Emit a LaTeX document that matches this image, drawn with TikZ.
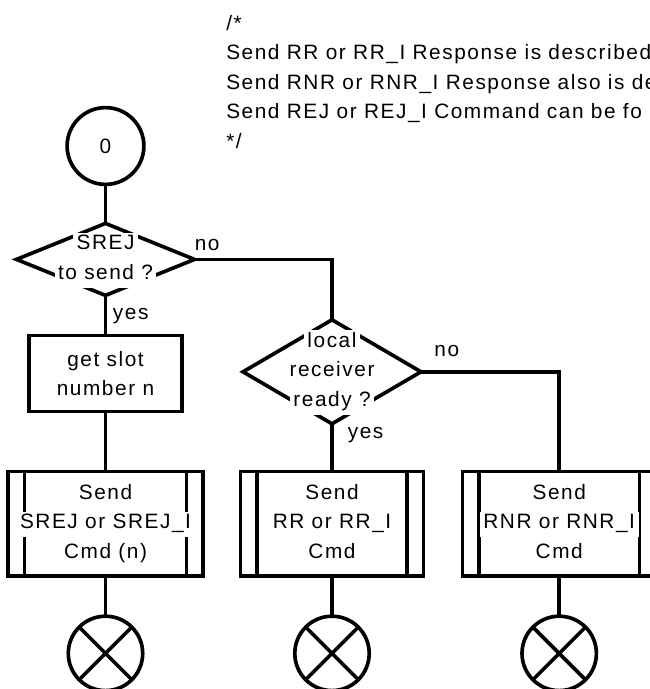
\documentclass[tikz,border=0pt]{standalone}
\usepackage{fontspec}
\setmainfont{Liberation Sans}[LetterSpace=7.5]
\usepackage{tikz}
\usetikzlibrary{shapes.geometric,positioning}
\newcommand{\chartfont}{\fontsize{14.8}{21}\selectfont}
% one text line on a white strip (cuts the lines behind it)
\newcommand{\wbg}[1]{\smash{\colorbox{white}{\hspace{2.5pt}\rule[-6pt]{0pt}{18pt}#1\hspace{2.5pt}}}\vphantom{Ag}}
\setlength{\fboxsep}{0pt}
\tikzset{
  chartline/.style={line width=2.6pt, outer sep=0pt, draw=black, font=\chartfont},
  statenode/.style={chartline, circle, minimum size=1.92cm, inner sep=0pt},
  endnode/.style={chartline, circle, minimum size=1.86cm, inner sep=0pt,
    path picture={\draw[line width=2.6pt]
      (path picture bounding box.north west) -- (path picture bounding box.south east)
      (path picture bounding box.south west) -- (path picture bounding box.north east);}},
  decision/.style={chartline, diamond, minimum width=4.45cm, minimum height=1.8cm, inner sep=0pt},
  dtext/.style={font=\chartfont, align=center, inner sep=0pt},
  process/.style={chartline, rectangle, minimum width=3.835cm, minimum height=1.9cm,
    align=center, inner sep=0pt},
  sendbox/.style={chartline, rectangle, minimum height=2.62cm, align=center, inner sep=0pt,
    path picture={\draw[line width=2.6pt]
      ([xshift=0.41cm]path picture bounding box.north west) -- ([xshift=0.41cm]path picture bounding box.south west)
      ([xshift=-0.41cm]path picture bounding box.north east) -- ([xshift=-0.41cm]path picture bounding box.south east);}},
  flowline/.style={line width=2.6pt},
  lbl/.style={font=\chartfont, inner sep=0pt},
  comment/.style={font=\chartfont, align=left, inner sep=0pt, anchor=north west}
}
\begin{document}
\begin{tikzpicture}[node distance=1cm]
\useasboundingbox (0,0) rectangle (16.25,-17.225);
\node[comment] (note) at (5.65,-0.375) {/*\\Send RR or RR\_I Response is described\\Send RNR or RNR\_I Response also is de\\Send REJ or REJ\_I Command can be fo\\*/};
\node[statenode] (start) at (2.6375,-3.65) {0};
\node[decision, below=0.975cm of start] (srejq) {};
\node[dtext] (srejqt) at (srejq) {\wbg{SREJ}\\\wbg{to send ?}};
\node[process, below=1cm of srejq] (getslot) {get slot\\number n};
\node[sendbox, minimum width=4.875cm, below=1.5cm of getslot] (sendsrej) {\wbg{Send}\\\wbg{SREJ or SREJ\_I}\\\wbg{Cmd (n)}};
\node[sendbox, minimum width=4.58cm, right=0.935cm of sendsrej] (sendrr) {\wbg{Send}\\\wbg{RR or RR\_I}\\\wbg{Cmd}};
\node[sendbox, minimum width=4.84cm, right=0.97cm of sendrr] (sendrnr) {\wbg{Send}\\\wbg{RNR or RNR\_I}\\\wbg{Cmd}};
\node[decision, minimum height=2.6cm, above=1.19cm of sendrr] (rxready) {};
\node[dtext] (rxreadyt) at (rxready) {\wbg{local}\\\wbg{receiver}\\\wbg{ready ?}};
\node[endnode, below=1cm of sendsrej] (endsrej) {};
\node[endnode, below=1cm of sendrr] (endrr) {};
\node[endnode, below=1cm of sendrnr] (endrnr) {};
% branch labels
\node[lbl, above right=0.22cm and 0cm of srejq.east] (srejno) {no};
\node[lbl, below right=0.31cm and 0.18cm of srejq.south] (srejyes) {yes};
\node[lbl, above right=0.37cm and 0.33cm of rxready.east] (rxno) {no};
\node[lbl, below right=0.08cm and 0.39cm of rxready.south] (rxyes) {yes};
\draw[flowline] (start) -- (srejq);
\draw[flowline] (srejq) -- (getslot);
\draw[flowline] (getslot) -- (sendsrej);
\draw[flowline] (sendsrej) -- (endsrej);
\draw[flowline] (srejq.east) -| (rxready.north);
\draw[flowline] (rxready) -- (sendrr);
\draw[flowline] (sendrr) -- (endrr);
\draw[flowline] (rxready.east) -| (sendrnr.north);
\draw[flowline] (sendrnr) -- (endrnr);
\end{tikzpicture}
\end{document}
